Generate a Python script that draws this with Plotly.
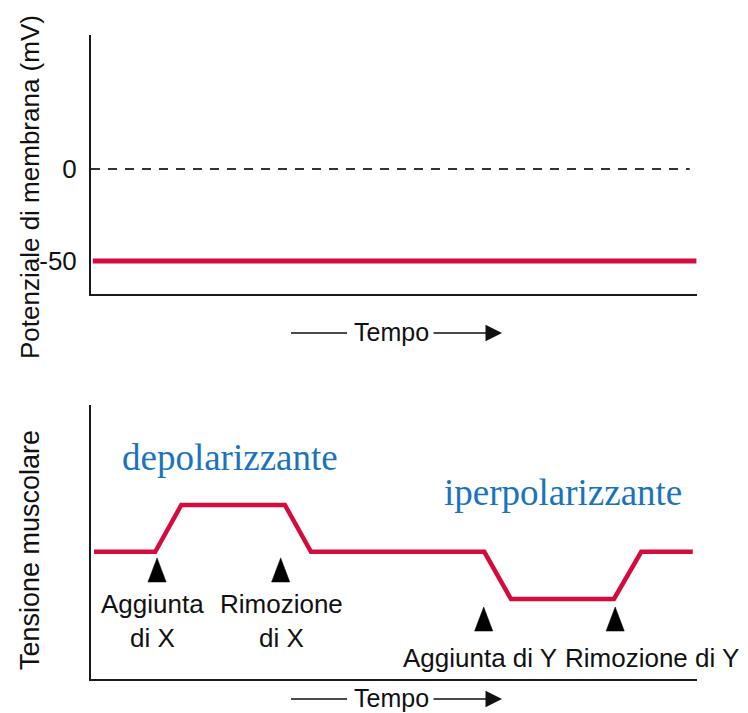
import plotly.graph_objects as go
from plotly.subplots import make_subplots

# ---------------- data ----------------
# top panel: membrane potential (mV) vs time (arbitrary 0-100)
vm_time = [0.3, 99.9]
vm_values = [-50, -50]
zero_time = [0, 98.8]
zero_values = [0, 0]
vm_tickvals = [0, -50]
vm_ticktext = ["0", "-50"]

# bottom panel: muscle tension (arbitrary units 0-100) vs time
tension_time = [0.5, 10.6, 14.9, 32.0, 36.3, 64.9, 69.3, 86.3, 90.8, 99.3]
tension_values = [46.4, 46.4, 63.5, 63.5, 46.4, 46.4, 29.2, 29.2, 46.4, 46.4]

# events (triangle markers): time, tip level
event_time = [10.9, 31.3, 64.8, 86.5]
event_tip = [44.2, 44.2, 26.3, 26.3]
event_labels = ["Aggiunta<br>di X", "Rimozione<br>di X", "Aggiunta di Y", "Rimozione di Y"]
event_label_x = [10.2, 31.5, 64.2, 92.6]
event_label_y = [21.0, 21.0, 7.7, 7.7]

phase_labels = ["depolarizzante", "iperpolarizzante"]
phase_label_x = [22.9, 77.9]
phase_label_y = [81.0, 67.9]

# ---------------- style ----------------
RED = "#d50b3e"
BLUE = "#1a73be"
AXIS = "#1a1a1a"
TXT = "#111111"
SANS = "Liberation Sans, Arial, sans-serif"
SERIF = "Liberation Serif, Times New Roman, serif"

# the page adds an 8px body margin, so the figure is drawn 8px smaller
OFF = 8
W, H = 748 - OFF, 713 - OFF


def px(x):
    return (x - OFF) / W


def py(y):
    return 1 - (y - OFF) / H


fig = make_subplots(rows=2, cols=1)

fig.add_trace(go.Scatter(x=zero_time, y=zero_values, mode="lines",
                         line=dict(color="#333333", width=2, dash="9px,8px"),
                         hoverinfo="skip"), row=1, col=1)
fig.add_trace(go.Scatter(x=vm_time, y=vm_values, mode="lines",
                         line=dict(color=RED, width=5), hoverinfo="skip"), row=1, col=1)

fig.add_trace(go.Scatter(x=tension_time, y=tension_values, mode="lines",
                         line=dict(color=RED, width=4.5),
                         hoverinfo="skip"), row=2, col=1)

# tall triangle markers built around the event times
half_w = 1.5     # data units (x)
tri_h = 8.8      # data units (y)
for t, tip in zip(event_time, event_tip):
    fig.add_trace(go.Scatter(x=[t - half_w, t, t + half_w, t - half_w],
                             y=[tip - tri_h, tip, tip - tri_h, tip - tri_h],
                             mode="lines", fill="toself", fillcolor="black",
                             line=dict(color="black", width=0.5),
                             hoverinfo="skip"), row=2, col=1)

fig.update_xaxes(domain=[px(91), px(697)], range=[0, 100], showgrid=False, zeroline=False,
                 showticklabels=False, ticks="", showline=True, linecolor=AXIS,
                 linewidth=2)
fig.update_yaxes(showgrid=False, zeroline=False, ticks="", showline=True,
                 linecolor=AXIS, linewidth=2)

fig.update_yaxes(row=1, col=1, domain=[py(294), py(35)], range=[-67.9, 72.8],
                 tickvals=vm_tickvals, ticktext=vm_ticktext, ticklabelstandoff=7,
                 tickfont=dict(family=SANS, size=26, color=TXT))
fig.update_yaxes(row=2, col=1, domain=[py(679), py(405)], range=[0, 100],
                 showticklabels=False)

annotations = [
    dict(text="Potenziale di membrana (mV)", x=px(30), y=py(187), xref="paper", yref="paper",
         textangle=-90, showarrow=False, xanchor="center", yanchor="middle",
         font=dict(family=SANS, size=26, color=TXT)),
    dict(text="Tensione muscolare", x=px(30), y=py(550), xref="paper", yref="paper",
         textangle=-90, showarrow=False, xanchor="center", yanchor="middle",
         font=dict(family=SANS, size=27, color=TXT)),
]
for txt, x, y in zip(event_labels, event_label_x, event_label_y):
    annotations.append(dict(text=txt, x=x, y=y, xref="x2", yref="y2", showarrow=False,
                            xanchor="center", yanchor="middle",
                            font=dict(family=SANS, size=26, color=TXT)))
for txt, x, y in zip(phase_labels, phase_label_x, phase_label_y):
    annotations.append(dict(text=txt, x=x, y=y, xref="x2", yref="y2", showarrow=False,
                            xanchor="center", yanchor="middle",
                            font=dict(family=SERIF, size=37, color=BLUE)))

shapes = []
for ypx in (333, 699):
    yp = py(ypx)
    annotations.append(dict(text="Tempo", x=px(391), y=py(ypx - 1), xref="paper", yref="paper",
                            showarrow=False, xanchor="center", yanchor="middle",
                            font=dict(family=SANS, size=25, color=TXT)))
    shapes.append(dict(type="line", xref="paper", yref="paper", x0=px(291), x1=px(347),
                       y0=yp, y1=yp, line=dict(color=TXT, width=1.5)))
    annotations.append(dict(text="", x=px(502), y=yp, xref="paper", yref="paper",
                            ax=-70, ay=0, axref="pixel", ayref="pixel",
                            showarrow=True, arrowhead=2, arrowsize=2.2, arrowwidth=1.5,
                            arrowcolor=TXT))

fig.update_layout(width=W, height=H, margin=dict(l=0, r=0, t=0, b=0),
                  paper_bgcolor="white", plot_bgcolor="white", showlegend=False,
                  annotations=annotations, shapes=shapes)

fig.write_html("out.html")
